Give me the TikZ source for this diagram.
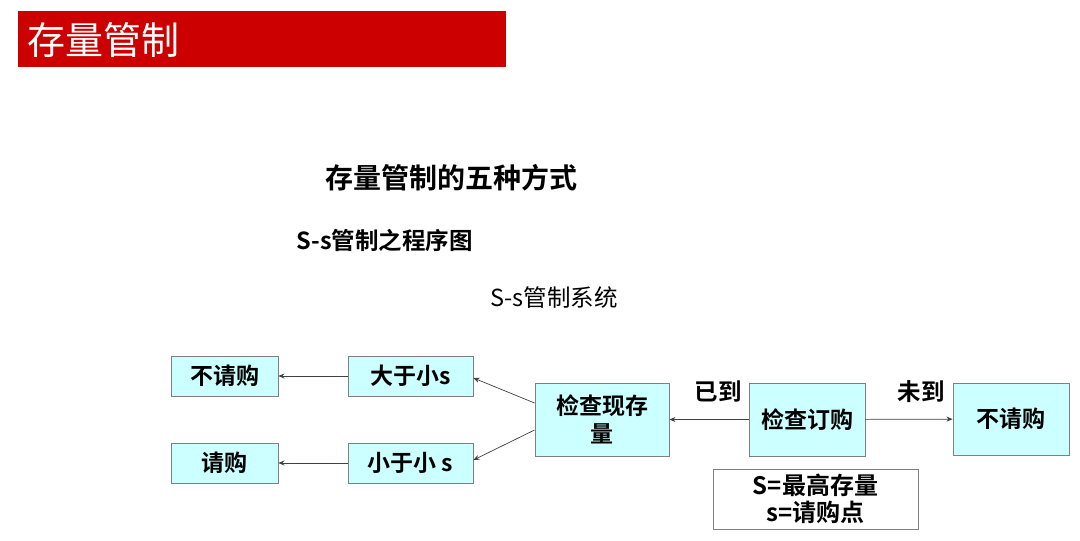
\documentclass[tikz,border=0pt]{standalone}
\usepackage{fontspec}
\newfontfamily\cjk{Noto Sans CJK SC}
\newfontfamily\cjkb{Noto Sans CJK SC Bold}
\usetikzlibrary{arrows.meta}
\definecolor{bannerred}{HTML}{CC0000}
\definecolor{boxfill}{HTML}{CCFFFF}
\definecolor{boxline}{HTML}{7F7F7F}
\begin{document}
\begin{tikzpicture}[x=1pt,y=-1pt,
  flowbox/.style={draw=boxline, fill=boxfill, line width=0.9pt, inner sep=0pt, align=center,
    font=\cjkb\fontsize{23}{28}\selectfont},
  conn/.style={draw=black!75, line width=0.7pt, -{Stealth[length=6pt,width=5pt]}},
  lbl/.style={font=\cjkb\fontsize{23.5}{28}\selectfont, inner sep=0pt}]
\useasboundingbox (0,0) rectangle (1080,541);
\fill[white] (0,0) rectangle (1080,541);
% banner
\node[fill=bannerred, minimum width=488pt, minimum height=56pt, anchor=north west, inner sep=0pt] (banner) at (18,11) {};
\node[anchor=west, text=white, font=\cjk\fontsize{38}{44}\selectfont, inner sep=0pt] (title) at (27,40) {存量管制};
% headings
\node[font=\cjkb\fontsize{28}{32}\selectfont, inner sep=0pt] (h1) at (451,178) {存量管制的五种方式};
\node[font=\cjkb\fontsize{23.5}{28}\selectfont, inner sep=0pt, anchor=west] (h2) at (296,240) {S-s管制之程序图};
\node[font=\cjk\fontsize{23.5}{28}\selectfont, inner sep=0pt, anchor=west] (h3) at (490,298) {S-s管制系统};
% boxes
\node[flowbox, minimum width=107pt, minimum height=40pt] (nob1) at (224.5,376) {不请购};
\node[flowbox, minimum width=125pt, minimum height=40pt] (gt) at (410.5,376) {大于小s};
\node[flowbox, minimum width=107pt, minimum height=40pt] (buy) at (224.5,463) {请购};
\node[flowbox, minimum width=125pt, minimum height=40pt] (lt) at (410.5,463) {小于小 s};
\node[flowbox, minimum width=134pt, minimum height=73pt] (chk) at (602,419.5) {检查现存\\量};
\node[flowbox, minimum width=116pt, minimum height=73pt] (ord) at (807,419.5) {检查订购};
\node[flowbox, minimum width=116pt, minimum height=72pt] (nob2) at (1011,419) {不请购};
\node[draw=boxline, fill=white, line width=0.9pt, minimum width=205pt, minimum height=60pt, inner sep=0pt, align=center,
  font=\cjkb\fontsize{24}{27}\selectfont] (legend) at (815.5,499) {S=最高存量\\s=请购点};
% labels
\node[lbl] (arr) at (718,392) {已到};
\node[lbl] (notarr) at (921,392) {未到};
% connectors
\coordinate (c1) at ([yshift=16.5pt]chk.west);
\coordinate (c2) at ([yshift=-10.5pt]chk.west);
\draw[conn] (c1) -- ([yshift=-2pt]gt.east);
\draw[conn] (c2) -- ([yshift=3pt]lt.east);
\draw[conn] (gt) -- (nob1);
\draw[conn] (lt) -- (buy);
\draw[conn] (ord) -- (chk);
\draw[conn] (ord) -- (nob2);
\end{tikzpicture}
\end{document}
